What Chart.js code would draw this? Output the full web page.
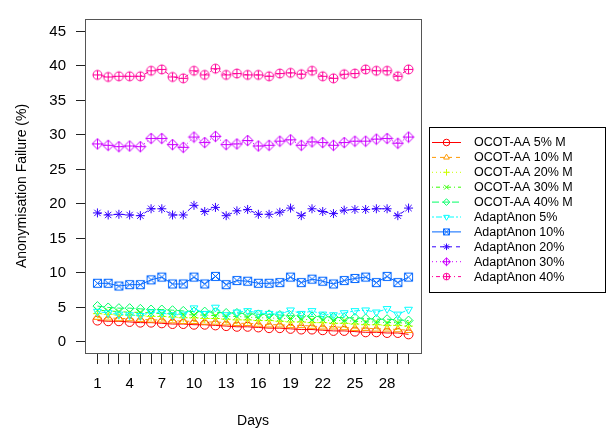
<!DOCTYPE html>
<html>
<head>
<meta charset="utf-8">
<script src="https://cdn.jsdelivr.net/npm/chart.js@4.4.1/dist/chart.umd.min.js"></script>
<style>
  html, body { margin: 0; padding: 0; background: #fff; }
  #wrap { width: 610px; height: 432px; }
</style>
</head>
<body>
<div id="wrap"><canvas id="chart" width="610" height="432"></canvas></div>
<script>
// days of the experiment
const days = [1, 2, 3, 4, 5, 6, 7, 8, 9, 10, 11, 12, 13, 14, 15, 16, 17, 18, 19, 20, 21, 22, 23, 24, 25, 26, 27, 28, 29, 30];
const xTickLabels = [1, 4, 7, 10, 13, 16, 19, 22, 25, 28];
const yTicks = [0, 5, 10, 15, 20, 25, 30, 35, 40, 45];

const seriesNames = ['OCOT-AA 5% M', 'OCOT-AA 10% M', 'OCOT-AA 20% M', 'OCOT-AA 30% M', 'OCOT-AA 40% M',
  'AdaptAnon 5%', 'AdaptAnon 10%', 'AdaptAnon 20%', 'AdaptAnon 30%', 'AdaptAnon 40%'];

const ocot5 = [3.1, 3.0, 3.0, 2.9, 2.8, 2.8, 2.7, 2.6, 2.6, 2.5, 2.5, 2.4, 2.3, 2.2, 2.2, 2.1, 2.0, 2.0, 1.9, 1.8, 1.8, 1.7, 1.6, 1.6, 1.5, 1.4, 1.4, 1.3, 1.3, 1.1];
const ocot10 = [3.6, 3.5, 3.4, 3.4, 3.3, 3.2, 3.2, 3.1, 3.0, 3.0, 2.9, 2.9, 2.8, 2.7, 2.7, 2.6, 2.5, 2.5, 2.4, 2.4, 2.3, 2.2, 2.2, 2.1, 2.0, 2.0, 1.9, 1.9, 1.8, 1.7];
const ocot20 = [4.1, 4.0, 3.9, 3.9, 3.8, 3.7, 3.7, 3.6, 3.5, 3.5, 3.4, 3.4, 3.3, 3.2, 3.2, 3.1, 3.1, 3.0, 2.9, 2.9, 2.8, 2.8, 2.7, 2.7, 2.6, 2.5, 2.5, 2.4, 2.4, 2.3];
const ocot30 = [4.6, 4.5, 4.4, 4.3, 4.3, 4.2, 4.1, 4.1, 4.0, 3.9, 3.9, 3.8, 3.7, 3.7, 3.6, 3.5, 3.5, 3.4, 3.4, 3.3, 3.2, 3.2, 3.1, 3.1, 3.0, 2.9, 2.9, 2.8, 2.8, 2.7];
const ocot40 = [5.2, 5.0, 4.9, 4.9, 4.8, 4.7, 4.7, 4.6, 4.5, 4.4, 4.4, 4.3, 4.2, 4.2, 4.1, 4.0, 4.0, 3.9, 3.8, 3.8, 3.7, 3.7, 3.6, 3.5, 3.5, 3.4, 3.3, 3.3, 3.2, 3.1];
const adapt5 = [4.4, 4.2, 4.0, 3.9, 3.8, 4.3, 4.2, 3.9, 4.0, 4.9, 4.1, 5.0, 3.9, 4.3, 4.5, 4.2, 4.1, 4.0, 4.6, 4.1, 4.5, 4.0, 3.9, 4.2, 4.5, 4.6, 4.3, 4.8, 4.0, 4.7];
const adapt10 = [8.5, 8.5, 8.1, 8.3, 8.3, 9.0, 9.4, 8.4, 8.4, 9.4, 8.4, 9.5, 8.3, 8.9, 8.8, 8.5, 8.5, 8.6, 9.4, 8.6, 9.1, 8.8, 8.4, 8.9, 9.2, 9.4, 8.6, 9.5, 8.6, 9.4];
const adapt20 = [18.7, 18.4, 18.5, 18.4, 18.3, 19.3, 19.3, 18.4, 18.4, 19.8, 18.9, 19.5, 18.3, 19.0, 19.2, 18.5, 18.5, 18.8, 19.4, 18.3, 19.3, 18.9, 18.6, 19.1, 19.2, 19.2, 19.3, 19.3, 18.3, 19.4];
const adapt30 = [28.7, 28.5, 28.3, 28.4, 28.3, 29.5, 29.5, 28.6, 28.2, 29.7, 28.9, 29.8, 28.6, 28.7, 29.2, 28.4, 28.5, 29.1, 29.3, 28.5, 29.0, 28.9, 28.5, 28.9, 29.1, 29.1, 29.4, 29.5, 28.8, 29.7];
const adapt40 = [38.7, 38.4, 38.5, 38.5, 38.5, 39.3, 39.5, 38.4, 38.2, 39.3, 38.7, 39.6, 38.7, 38.9, 38.7, 38.7, 38.5, 38.9, 39.0, 38.8, 39.3, 38.5, 38.2, 38.8, 38.9, 39.5, 39.3, 39.3, 38.5, 39.5];

const allSeries = [ocot5, ocot10, ocot20, ocot30, ocot40, adapt5, adapt10, adapt20, adapt30, adapt40];

// R rainbow(10)
const colors = ['#FF0000', '#FF9900', '#CCFF00', '#33FF00', '#00FF66', '#00FFFF', '#0066FF', '#3300FF', '#CC00FF', '#FF0099'];
// lty 1..6 then 1..4
const dashes = [[], [4, 4], [1, 3], [1, 3, 4, 3], [7, 3], [2, 2, 6, 2], [], [4, 4], [1, 3], [1, 3, 4, 3]];

// custom R-like symbols (pch 7, 9, 10)
function makeSymbol(kind, color, r) {
  const size = Math.ceil(r * 2 + 4);
  const c = document.createElement('canvas');
  c.width = size; c.height = size;
  const g = c.getContext('2d');
  g.strokeStyle = color;
  g.lineWidth = 1;
  const m = size / 2;
  g.beginPath();
  if (kind === 'squareX') {
    const h = r * 0.9;
    g.rect(m - h, m - h, 2 * h, 2 * h);
    g.moveTo(m - h, m - h); g.lineTo(m + h, m + h);
    g.moveTo(m + h, m - h); g.lineTo(m - h, m + h);
  } else if (kind === 'diamondPlus') {
    const h = r * 1.2;
    g.moveTo(m, m - h); g.lineTo(m + h, m); g.lineTo(m, m + h); g.lineTo(m - h, m); g.closePath();
    g.moveTo(m, m - h); g.lineTo(m, m + h);
    g.moveTo(m - h, m); g.lineTo(m + h, m);
  } else if (kind === 'circlePlus') {
    g.arc(m, m, r, 0, Math.PI * 2);
    g.moveTo(m, m - r); g.lineTo(m, m + r);
    g.moveTo(m - r, m); g.lineTo(m + r, m);
  }
  g.stroke();
  return c;
}

const customKinds = { 6: 'squareX', 8: 'diamondPlus', 9: 'circlePlus' };
const builtinStyles = ['circle', 'triangle', 'cross', 'crossRot', 'rectRot', 'triangle', null, 'star', null, null];
const pointRotations = [0, 0, 0, 0, 0, 180, 0, 0, 0, 0];
const styleFor = (i, r) => customKinds[i] ? makeSymbol(customKinds[i], colors[i], r) : builtinStyles[i];

const datasets = allSeries.map((vals, i) => ({
  label: seriesNames[i],
  data: vals.map((v, j) => ({ x: days[j], y: v })),
  borderColor: colors[i],
  backgroundColor: 'rgba(0,0,0,0)',
  borderWidth: 1,
  borderDash: dashes[i],
  pointStyle: styleFor(i, 4.5),
  pointRotation: pointRotations[i],
  pointRadius: 4.5,
  pointBorderColor: colors[i],
  pointBackgroundColor: 'rgba(0,0,0,0)',
  pointBorderWidth: 1,
  tension: 0,
  order: 10 - i
}));

const frameAndLegend = {
  id: 'frameAndLegend',
  afterDraw(chart) {
    const ctx = chart.ctx;
    const a = chart.chartArea;
    ctx.save();
    ctx.strokeStyle = '#555';
    ctx.lineWidth = 1;
    ctx.strokeRect(Math.round(a.left) + 0.5, Math.round(a.top) + 0.5, Math.round(a.right - a.left), Math.round(a.bottom - a.top));

    // legend box
    ctx.strokeStyle = '#000';
    ctx.strokeRect(429.5, 127.5, 176, 165);
    ctx.font = '12.5px "Liberation Sans", Arial, sans-serif';
    ctx.textBaseline = 'middle';
    chart.data.datasets.forEach((ds, i) => {
      const y = 142.5 + i * 14.9;
      ctx.lineWidth = 1;
      ctx.strokeStyle = ds.borderColor;
      ctx.setLineDash(ds.borderDash);
      ctx.beginPath();
      ctx.moveTo(432, y); ctx.lineTo(461, y);
      ctx.stroke();
      ctx.setLineDash([]);
      ctx.fillStyle = 'rgba(0,0,0,0)';
      ctx.strokeStyle = ds.borderColor;
      Chart.helpers.drawPoint(ctx, {
        pointStyle: styleFor(i, 3.3), rotation: ds.pointRotation, radius: 3.3, borderWidth: 1
      }, 446.5, y);
      ctx.fillStyle = '#000';
      ctx.fillText(ds.label, 474, y + 0.5);
    });
    ctx.restore();
  }
};

new Chart(document.getElementById('chart'), {
  type: 'line',
  data: { datasets },
  plugins: [frameAndLegend],
  options: {
    responsive: false,
    animation: false,
    layout: { padding: { left: 0, top: 5, right: 189, bottom: 0 } },
    plugins: { legend: { display: false }, tooltip: { enabled: false } },
    scales: {
      x: {
        type: 'linear',
        min: -0.16,
        max: 31.16,
        afterBuildTicks: s => { s.ticks = days.map(d => ({ value: d })); },
        afterFit: s => { s.height = 79; },
        grid: { drawOnChartArea: false, drawTicks: true, tickLength: 11, color: '#222' },
        border: { display: false },
        ticks: {
          autoSkip: false, maxRotation: 0, padding: 11, color: '#000',
          font: { family: '"Liberation Sans", Arial, sans-serif', size: 15 },
          callback: v => xTickLabels.includes(v) ? String(v) : ''
        },
        title: {
          display: true, text: 'Days', color: '#000',
          font: { family: '"Liberation Sans", Arial, sans-serif', size: 14 },
          padding: { top: 0, bottom: 2 }
        }
      },
      y: {
        min: -1.6,
        max: 46.8,
        afterBuildTicks: s => { s.ticks = yTicks.map(v => ({ value: v })); },
        afterFit: s => { s.width = 85; },
        grid: { drawOnChartArea: false, drawTicks: true, tickLength: 9, color: '#222' },
        border: { display: false },
        ticks: {
          padding: 10, color: '#000',
          font: { family: '"Liberation Sans", Arial, sans-serif', size: 15 }
        },
        title: {
          display: true, text: 'Anonymisation Failure (%)', color: '#000',
          font: { family: '"Liberation Sans", Arial, sans-serif', size: 14 },
          padding: { top: 14, bottom: 0 }
        }
      }
    }
  }
});
</script>
</body>
</html>
